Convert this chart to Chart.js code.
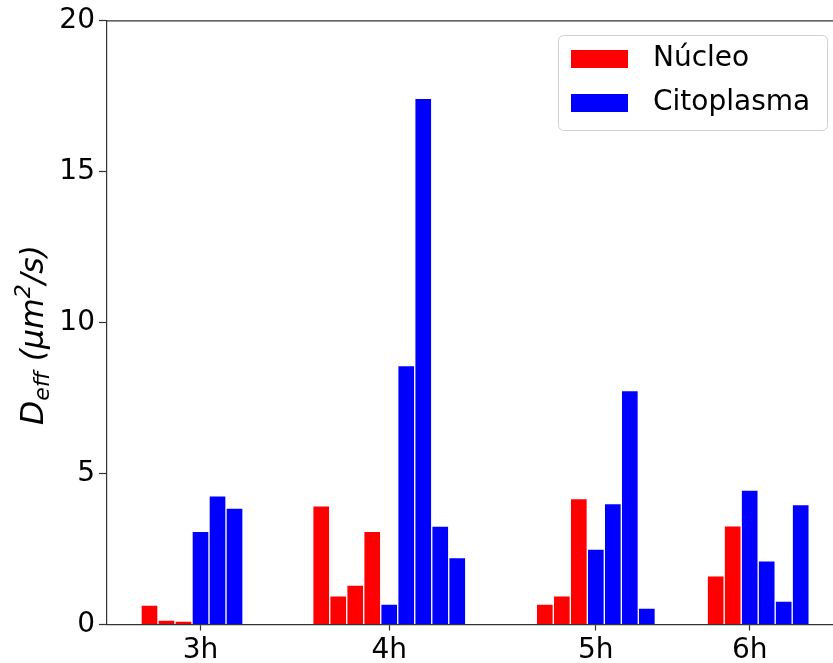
<!DOCTYPE html>
<html>
<head>
<meta charset="utf-8">
<script src="https://cdn.jsdelivr.net/npm/chart.js@4"></script>
<style>
  body { margin: 0; background: #fff; overflow: hidden; }
  #wrap { width: 833px; height: 663px; }
</style>
</head>
<body>
<div id="wrap"><canvas id="deffChart" width="833" height="663"></canvas></div>
<script>
// time points and where each group's first cytoplasm bar sits on the x axis
const groups = ['3h', '4h', '5h', '6h']
const groupPos = [5.5, 16.6, 28.75, 37.8]

// D_eff per cell, one small list per time point
const nucleo = [
  [0.64, 0.15, 0.11],
  [3.93, 0.95, 1.31, 3.09],
  [0.68, 0.95, 4.17],
  [1.61, 3.27]
]
const citoplasma = [
  [3.09, 4.26, 3.86],
  [0.68, 8.58, 17.43, 3.26, 2.22],
  [2.50, 4.01, 7.75, 0.54],
  [4.45, 2.11, 0.78, 3.97]
]

const yTicks = [0, 5, 10, 15, 20]

const font = { family: 'DejaVu Sans', size: 28 }

// nucleus bars go to the left of the group position, cytoplasm from it to the right
const nucleoPts = []
const citoPts = []
groups.forEach((g, i) => {
  const n = nucleo[i]
  n.forEach((v, j) => nucleoPts.push({ x: groupPos[i] - n.length + j, y: v }))
  citoplasma[i].forEach((v, j) => citoPts.push({ x: groupPos[i] + j, y: v }))
})

const barStyle = {
  borderColor: 'rgba(255,255,255,0.9)',
  borderWidth: 1,
  grouped: false,
  barPercentage: 1,
  categoryPercentage: 1
}

// top spine, y title with sub/superscript, legend box
const decorations = {
  id: 'decorations',
  afterDraw(chart) {
    const ctx = chart.ctx
    const area = chart.chartArea
    ctx.save()
    ctx.strokeStyle = '#333'
    ctx.lineWidth = 1.2
    ctx.beginPath()
    ctx.moveTo(area.left, area.top)
    ctx.lineTo(chart.width, area.top)
    ctx.stroke()
    ctx.restore()

    // y axis title: D_eff (μm²/s)
    const big = 31.5
    const small = 22
    const parts = [
      { t: 'D', size: big, dy: 0 },
      { t: 'eff', size: small, dy: 6 },
      { t: ' (μm', size: big, dy: 0 },
      { t: '2', size: small, dy: -13 },
      { t: '/s)', size: big, dy: 0 }
    ]
    ctx.save()
    ctx.translate(43, 425)
    ctx.rotate(-Math.PI / 2)
    ctx.fillStyle = '#000'
    ctx.textBaseline = 'alphabetic'
    let x = 0
    parts.forEach(p => {
      ctx.font = 'italic ' + p.size + 'px "DejaVu Sans"'
      ctx.fillText(p.t, x, p.dy)
      x += ctx.measureText(p.t).width
    })
    ctx.restore()

    // legend
    const bx = 558, by = 35, bw = 269, bh = 95
    ctx.save()
    ctx.fillStyle = 'rgba(255,255,255,0.85)'
    ctx.strokeStyle = '#d0d0d0'
    ctx.lineWidth = 1
    ctx.beginPath()
    ctx.roundRect(bx + 0.5, by + 0.5, bw, bh, 5)
    ctx.fill()
    ctx.stroke()
    ctx.font = font.size + 'px "DejaVu Sans"'
    ctx.textBaseline = 'middle'
    chart.data.datasets.forEach((ds, i) => {
      const y = by + 15 + i * 44
      ctx.fillStyle = ds.backgroundColor
      ctx.fillRect(bx + 13, y, 57, 18)
      ctx.fillStyle = '#000'
      ctx.fillText(ds.label, bx + 95, y + 9)
    })
    ctx.restore()
  }
}

new Chart(document.getElementById('deffChart'), {
  type: 'bar',
  data: {
    datasets: [
      Object.assign({ label: 'Núcleo', data: nucleoPts, backgroundColor: '#ff0000' }, barStyle),
      Object.assign({ label: 'Citoplasma', data: citoPts, backgroundColor: '#0000ff' }, barStyle)
    ]
  },
  options: {
    responsive: false,
    animation: false,
    devicePixelRatio: 1,
    layout: { padding: { top: 20, right: 0, bottom: 0, left: 0 } },
    plugins: {
      legend: { display: false },
      tooltip: { enabled: false }
    },
    scales: {
      x: {
        type: 'linear',
        min: 0,
        max: 42.7,
        offset: false,
        afterBuildTicks: axis => { axis.ticks = groupPos.map(v => ({ value: v })) },
        ticks: {
          autoSkip: false,
          maxRotation: 0,
          padding: 3,
          color: '#000',
          font: font,
          callback: (v, i) => groups[i]
        },
        grid: { drawOnChartArea: false, offset: false, tickLength: 6, tickColor: '#333', tickWidth: 1.2 },
        border: { color: '#333', width: 1.2 },
        afterFit: s => { s.height = 38.5 }
      },
      y: {
        min: 0,
        max: 20,
        afterBuildTicks: axis => { axis.ticks = yTicks.map(v => ({ value: v })) },
        ticks: { color: '#000', font: font, padding: 4 },
        grid: { drawOnChartArea: false, tickLength: 8, tickColor: '#333', tickWidth: 1.2 },
        border: { color: '#333', width: 1.2 },
        afterFit: s => { s.width = 107 }
      }
    }
  },
  plugins: [decorations]
})
</script>
</body>
</html>
